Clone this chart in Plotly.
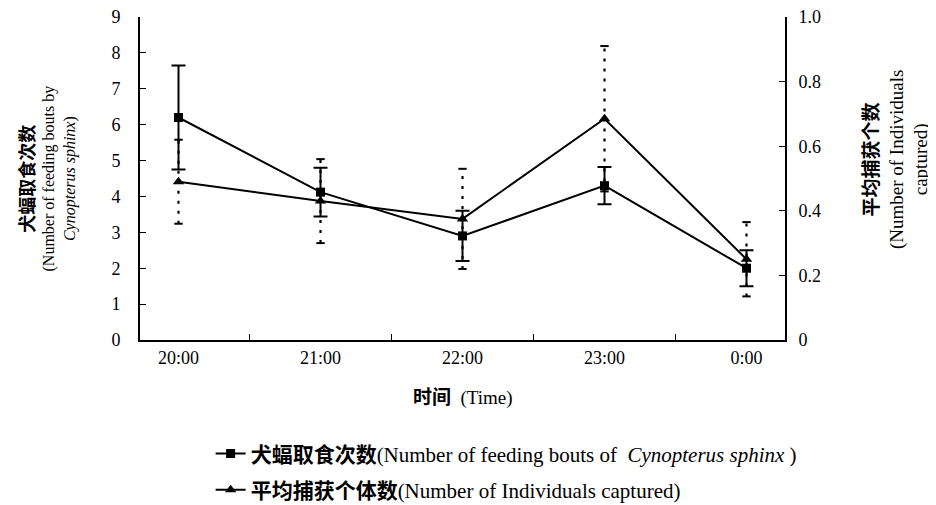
import plotly.graph_objects as go

times = ["20:00", "21:00", "22:00", "23:00", "0:00"]
bouts = [6.2, 4.12, 2.9, 4.3, 2.0]
bouts_err = [1.45, 0.68, 0.7, 0.52, 0.5]
captured = [0.49, 0.43, 0.375, 0.685, 0.25]
captured_err = [0.13, 0.13, 0.155, 0.225, 0.115]

left_ticks = [0, 1, 2, 3, 4, 5, 6, 7, 8, 9]
right_ticks = [0, 0.2, 0.4, 0.6, 0.8, 1.0]
right_ticktext = ["0", "0.2", "0.4", "0.6", "0.8", "1.0"]

SERIF = "Liberation Serif, Noto Sans CJK SC, serif"

fig = go.Figure()

# dotted error bars for captured (right axis)
ex, ey = [], []
for t, v, e in zip(times, captured, captured_err):
    ex += [t, t, None]
    ey += [v - e, v + e, None]
fig.add_trace(go.Scatter(x=ex, y=ey, yaxis="y2", mode="lines",
                         line=dict(color="black", width=2.2, dash="3px,7px"),
                         showlegend=False, hoverinfo="skip"))
fig.add_trace(go.Scatter(x=times + times,
                         y=[v - e for v, e in zip(captured, captured_err)] +
                           [v + e for v, e in zip(captured, captured_err)],
                         yaxis="y2", mode="markers",
                         marker=dict(symbol="line-ew-open", size=6, color="black",
                                     line=dict(color="black", width=2)),
                         showlegend=False, hoverinfo="skip"))

fig.add_trace(go.Scatter(
    x=times, y=bouts, mode="lines+markers", legendgroup="a",
    name="<b>犬蝠取食次数</b>(Number of feeding bouts of  <i>Cynopterus sphinx</i> )",
    line=dict(color="black", width=2),
    marker=dict(symbol="square", size=9, color="black"),
    error_y=dict(type="data", array=bouts_err, visible=True,
                 color="black", thickness=2, width=7)))

fig.add_trace(go.Scatter(
    x=times, y=captured, yaxis="y2", mode="lines+markers", legendgroup="b",
    name="<b>平均捕获个体数</b>(Number of Individuals captured)",
    line=dict(color="black", width=2),
    marker=dict(symbol="triangle-up", size=10, color="black")))

fig.update_layout(
    width=928, height=497,
    margin=dict(l=132, r=151, t=9, b=165, autoexpand=False),
    paper_bgcolor="white", plot_bgcolor="white",
    font=dict(family=SERIF, size=17, color="black"),
    xaxis=dict(type="category", categoryorder="array", categoryarray=times,
               showline=True, linecolor="black", linewidth=2,
               ticks="inside", tickson="boundaries", ticklen=6, tickcolor="black",
               showgrid=False, zeroline=False, ticklabelstandoff=0,
               automargin=False, tickfont=dict(family=SERIF, size=18)),
    yaxis=dict(range=[0, 9], tickvals=left_ticks, showline=True,
               linecolor="black", linewidth=2, ticks="inside", ticklen=6,
               tickcolor="black", showgrid=False, zeroline=False,
               automargin=False, ticklabeloverflow="allow",
               ticklabelstandoff=14, tickfont=dict(family=SERIF, size=18)),
    yaxis2=dict(range=[0, 1.0], overlaying="y", side="right",
                tickvals=right_ticks, ticktext=right_ticktext, showline=True,
                linecolor="black", linewidth=2, ticks="inside", ticklen=6,
                tickcolor="black", showgrid=False, zeroline=False,
                automargin=False, ticklabeloverflow="allow",
                ticklabelstandoff=8, tickfont=dict(family=SERIF, size=18)),
    showlegend=True,
    legend=dict(x=0.1095, y=-0.289, xanchor="left", yanchor="top",
                xref="paper", yref="paper", traceorder="grouped",
                tracegroupgap=6, bgcolor="rgba(0,0,0,0)",
                font=dict(family=SERIF, size=21, color="black")),
    annotations=[
        dict(text="<span style='font-size:18px'><b>犬蝠取食次数</b></span><br>(Number of feeding bouts by<br><i>Cynopterus sphinx</i>)",
             xref="paper", yref="paper", x=0, y=0.5, xanchor="center",
             yanchor="middle", xshift=-92, textangle=-90, showarrow=False,
             font=dict(family=SERIF, size=16)),
        dict(text="<b>平均捕获个数</b><br>(Number of Individuals<br>captured)",
             xref="paper", yref="paper", x=1, y=0.557, xanchor="center",
             yanchor="middle", xshift=111, textangle=-90, showarrow=False,
             font=dict(family=SERIF, size=19)),
        dict(text="<b>时间</b>  (Time)", xref="paper", yref="paper",
             x=0.5, y=-0.18, xanchor="center", yanchor="middle",
             showarrow=False, font=dict(family=SERIF, size=19)),
    ],
)

fig.write_html("out.html")
